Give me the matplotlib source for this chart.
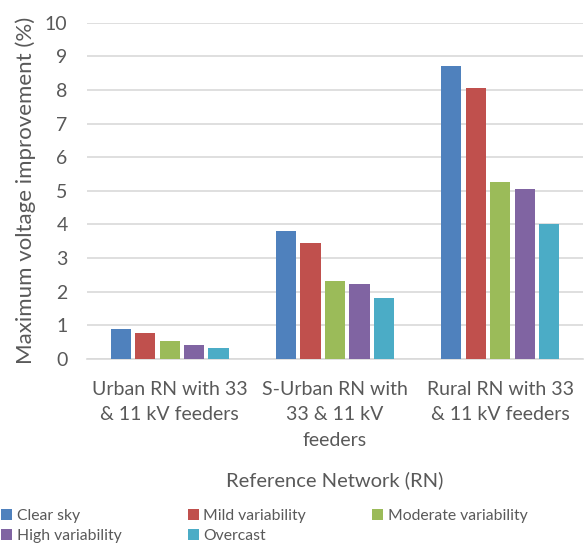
import matplotlib
matplotlib.use("Agg")
import matplotlib.pyplot as plt
import numpy as np
from matplotlib.patches import Patch

plt.rcParams['font.family'] = ['Lato', 'DejaVu Sans']

networks = ["Urban RN with 33\n& 11 kV feeders",
            "S-Urban RN with\n33 & 11 kV\nfeeders",
            "Rural RN with 33\n& 11 kV feeders"]
scenarios = ["Clear sky", "Mild variability", "Moderate variability",
             "High variability", "Overcast"]
clear_sky = [0.87, 3.80, 8.71]
mild = [0.78, 3.46, 8.05]
moderate = [0.52, 2.30, 5.26]
high = [0.42, 2.21, 5.06]
overcast = [0.32, 1.82, 4.00]
colors = ["#4F81BD", "#C0504D", "#9BBB59", "#8064A2", "#4BACC6"]

series = [clear_sky, mild, moderate, high, overcast]
text_col = "#595959"

fig = plt.figure(figsize=(5.84, 5.44), dpi=100)
ax = fig.add_axes([0.149, 0.3406, 0.849, 0.6174])

x = np.arange(len(networks))
slot = 0.148
for i, (vals, c, name) in enumerate(zip(series, colors, scenarios)):
    ax.bar(x + (i - 2) * slot, vals, width=slot * 0.83, color=c, label=name, zorder=3)

ax.set_xlim(-0.5, 2.5)
ax.set_ylim(0, 10)
ax.set_yticks(range(0, 11))
ax.yaxis.grid(True, color="#d9d9d9", linewidth=1.2, zorder=0)
for s in ["top", "right", "left"]:
    ax.spines[s].set_visible(False)
ax.spines["bottom"].set_color("#d9d9d9")
ax.spines["bottom"].set_linewidth(1.2)
ax.tick_params(axis="both", length=0, labelsize=14, colors=text_col)
ax.tick_params(axis="y", pad=14)
ax.set_xticks(x)
ax.set_xticklabels(networks, linespacing=1.6)
ax.tick_params(axis="x", pad=16)

ax.set_ylabel("Maximum voltage improvement (%)", fontsize=16, color=text_col)
ax.yaxis.set_label_coords(-0.103, 0.5)
ax.set_xlabel("Reference Network (RN)", fontsize=14.5, color=text_col, labelpad=16)

order = [0, 3, 1, 4, 2]
handles = [Patch(facecolor=colors[k]) for k in order]
labels = [scenarios[k] for k in order]
fig.legend(handles, labels, ncol=3, loc="lower left", bbox_to_anchor=(-0.022, -0.025),
           frameon=False, fontsize=11.3, labelcolor=text_col, handlelength=0.7,
           handleheight=0.7, handletextpad=0.3, columnspacing=4.2, labelspacing=0.4)

fig.savefig("out.png", dpi=100)
